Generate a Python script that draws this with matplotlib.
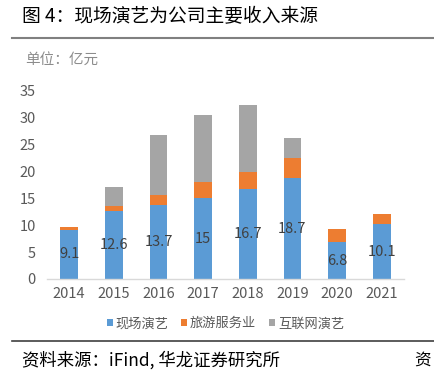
import matplotlib
matplotlib.use("Agg")
import matplotlib.pyplot as plt
from matplotlib.lines import Line2D
import numpy as np

plt.rcParams['font.family'] = ['Noto Sans CJK SC', 'DejaVu Sans']

years = ['2014', '2015', '2016', '2017', '2018', '2019', '2020', '2021']
live = [9.1, 12.6, 13.7, 15.0, 16.7, 18.7, 6.8, 10.1]
tourism = [0.5, 0.9, 1.8, 3.0, 3.1, 3.8, 2.4, 1.9]
internet = [0.0, 3.5, 11.1, 12.4, 12.4, 3.7, 0.0, 0.0]
live_labels = ['9.1', '12.6', '13.7', '15', '16.7', '18.7', '6.8', '10.1']
series_names = ['现场演艺', '旅游服务业', '互联网演艺']
colors = ['#5B9BD5', '#ED7D31', '#A5A5A5']
yticks = [0, 5, 10, 15, 20, 25, 30, 35]

fig = plt.figure(figsize=(4.34, 3.71), dpi=100)
ax = fig.add_axes([0.108, 0.248, 0.823, 0.509])

x = np.arange(len(years))
w = 0.4
live_a = np.array(live)
tour_a = np.array(tourism)
net_a = np.array(internet)
ax.bar(x, live_a, w, color=colors[0], label=series_names[0], zorder=2)
ax.bar(x, tour_a, w, bottom=live_a, color=colors[1], label=series_names[1], zorder=2)
ax.bar(x, net_a, w, bottom=live_a + tour_a, color=colors[2], label=series_names[2], zorder=2)

for xi, v, lab in zip(x, live, live_labels):
    ax.text(xi, v / 2, lab, ha='center', va='center', fontsize=10.5, color='#404040')

ax.set_xlim(-0.5, len(years) - 0.5)
ax.set_ylim(0, 35)
ax.set_yticks(yticks)
ax.set_yticklabels([str(t) for t in yticks])
ax.set_xticks(x)
ax.set_xticklabels(years)
ax.tick_params(axis='both', length=0, labelsize=10.5, colors='#595959')
ax.tick_params(axis='y', pad=8)
ax.tick_params(axis='x', pad=6)
for s in ['top', 'right', 'left']:
    ax.spines[s].set_visible(False)
ax.spines['bottom'].set_color('#D9D9D9')
ax.spines['bottom'].set_linewidth(1)

leg = ax.legend(loc='upper center', bbox_to_anchor=(0.5, -0.14), ncol=3, frameon=False,
                fontsize=9.5, handlelength=0.45, handleheight=0.45, handletextpad=0.2,
                columnspacing=1.0, labelcolor='#595959')

fig.text(0.05, 0.955, '图 4：现场演艺为公司主要收入来源', fontsize=13.5, color='#000000', va='center', ha='left')
fig.add_artist(Line2D([0.028, 1.0], [0.898, 0.898], color='#808080', linewidth=1.5))
fig.text(0.057, 0.838, '单位：亿元', fontsize=10.5, color='#8C8C8C', va='center', ha='left')
fig.add_artist(Line2D([0.028, 1.0], [0.082, 0.082], color='#404040', linewidth=1.2))
fig.text(0.05, 0.03, '资料来源：iFind, 华龙证券研究所', fontsize=12.5, color='#000000', va='center', ha='left')
fig.text(0.955, 0.03, '资', fontsize=12, color='#000000', va='center', ha='left')

fig.savefig('out.png', dpi=100)
